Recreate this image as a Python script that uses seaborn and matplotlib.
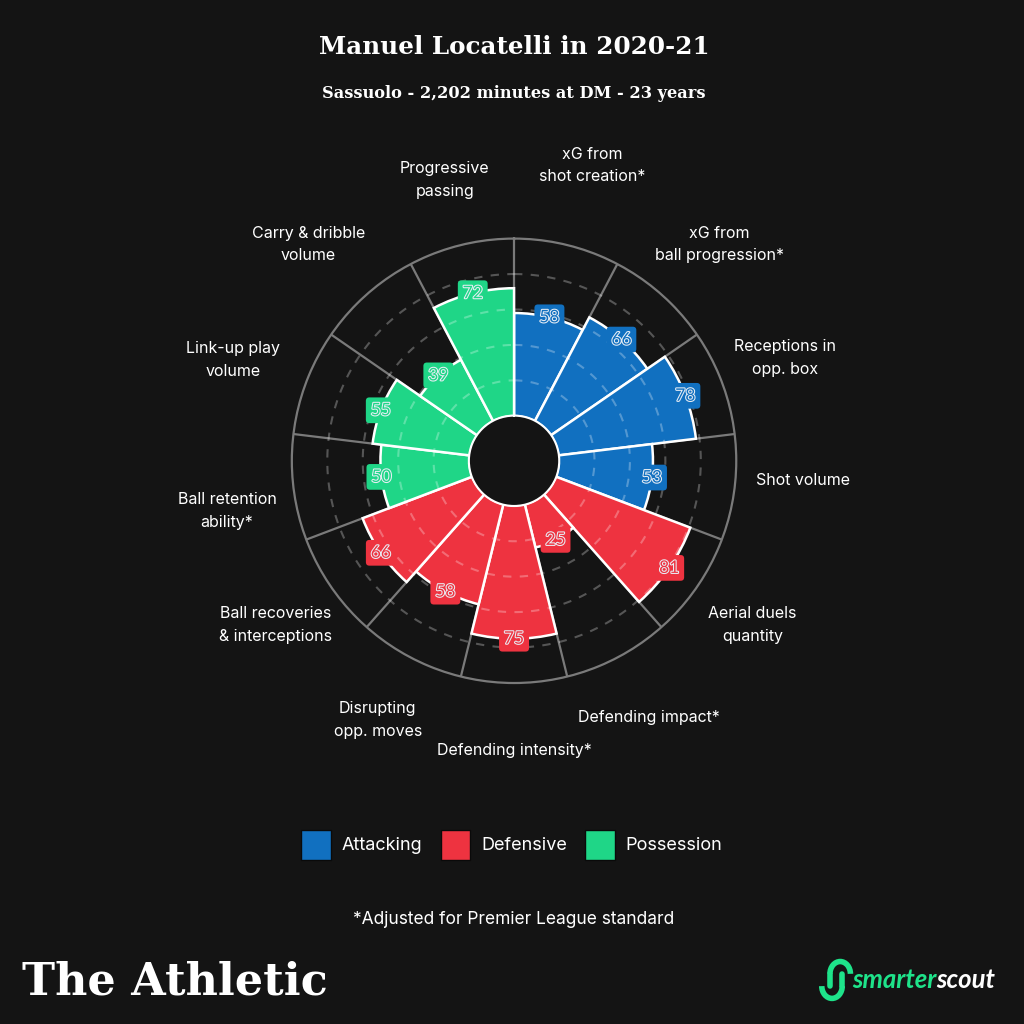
import numpy as np
import matplotlib
matplotlib.use("Agg")
import matplotlib.pyplot as plt
import matplotlib.patheffects as pe
from matplotlib.patches import Patch, Arc
import seaborn as sns

# chart data
labels = ["xG from\nshot creation*", "xG from\nball progression*", "Receptions in\nopp. box",
          "Shot volume", "Aerial duels\nquantity", "Defending impact*", "Defending intensity*",
          "Disrupting\nopp. moves", "Ball recoveries\n& interceptions", "Ball retention\nability*",
          "Link-up play\nvolume", "Carry & dribble\nvolume", "Progressive\npassing"]
values = [58, 66, 78, 53, 81, 25, 75, 58, 66, 50, 55, 39, 72]
groups = ["Attacking"] * 4 + ["Defensive"] * 5 + ["Possession"] * 4
group_names = ["Attacking", "Defensive", "Possession"]

# label placement tweaks (angle nudge in degrees, radius)
label_nudge = [(1, 147), (2, 143), (0, 138), (-3, 138), (0, 138), (0, 138), (0, 138),
               (0, 140), (0, 138), (-3, 139), (-1, 143), (-2, 143), (0, 138)]

bg = "#141414"
palette = dict(zip(group_names, sns.color_palette(["#1170C0", "#EE3340", "#1FD687"])))

sns.set_theme(style="dark", rc={"figure.facecolor": bg, "axes.facecolor": bg, "savefig.facecolor": bg})
plt.rcParams["font.family"] = ["Inter", "DejaVu Sans"]

fig = plt.figure(figsize=(10.24, 10.24), dpi=100)
ax = fig.add_axes([0.285, 0.333, 0.434, 0.434], projection="polar")
ax.set_facecolor(bg)
ax.set_theta_zero_location("N")
ax.set_theta_direction(-1)

n = len(values)
width = 2 * np.pi / n
theta = np.arange(n) * width + width / 2
colors = [palette[g] for g in groups]

# gray radial separators
for a in np.arange(n) * width:
    ax.plot([a, a], [0, 100], color="#7a7a7a", lw=1.6, zorder=1)

ax.bar(theta, values, width=width, bottom=0, color=colors, edgecolor="white", linewidth=1.8, zorder=2)

# dashed rings
ring = np.linspace(0, 2 * np.pi, 400)
for r in [20, 40, 60, 80]:
    ax.plot(ring, np.full_like(ring, r), color="white", alpha=0.28, lw=1.5, ls=(0, (4, 4)), zorder=3)

ax.set_ylim(0, 100)
ax.set_rorigin(-25.4)
ax.grid(False)
ax.set_xticks([])
ax.set_yticks([])
ax.spines["polar"].set_color("#7a7a7a")
ax.spines["polar"].set_linewidth(1.6)
ax.spines["inner"].set_visible(False)

# value badges
for t, v, c in zip(theta, values, colors):
    ax.text(t, v, str(v), ha="center", va="center", fontsize=12.5, color=c,
            family=["Lato", "DejaVu Sans"], zorder=5,
            bbox=dict(boxstyle="round,pad=0.28,rounding_size=0.2", fc=c, ec="none"),
            path_effects=[pe.withStroke(linewidth=1.5, foreground="#e8eef5")])

# category labels
for t, lab, (dt, rr) in zip(theta, labels, label_nudge):
    ax.text(t + np.deg2rad(dt), rr, lab, ha="center", va="center", fontsize=11.5, color="white",
            linespacing=1.65, zorder=5)

# titles
fig.text(0.502, 0.954, "Manuel Locatelli in 2020-21", ha="center", va="center", color="white",
         fontsize=17.7, fontweight="bold", family="DejaVu Serif")
fig.text(0.502, 0.909, "Sassuolo - 2,202 minutes at DM - 23 years", ha="center", va="center",
         color="white", fontsize=11.7, fontweight="bold", family="DejaVu Serif")

# legend
handles = [Patch(facecolor=palette[g], edgecolor="#0a0a0a", label=g) for g in group_names]
leg = fig.legend(handles=handles, loc="center", bbox_to_anchor=(0.500, 0.175), ncol=3, frameon=False,
                 fontsize=13, handlelength=1.65, handleheight=2.15, handletextpad=0.6,
                 columnspacing=1.0)
for txt in leg.get_texts():
    txt.set_color("white")

fig.text(0.502, 0.102, "*Adjusted for Premier League standard", ha="center", va="center",
         color="white", fontsize=12.5)

# footer
fig.text(0.021, 0.041, "The Athletic", ha="left", va="center", color="white", fontsize=32,
         fontweight="bold", family="DejaVu Serif")
green = "#1EE38A"
t1 = fig.text(0.832, 0.043, "smarter", ha="left", va="center", color=green, fontsize=18.5,
              fontweight="bold", fontstyle="italic", family=["Lato", "DejaVu Sans"])
fig.canvas.draw()
bb = t1.get_window_extent()
fig.text(bb.x1 / fig.bbox.width, 0.043, "scout", ha="left", va="center", color="white",
         fontsize=18.5, fontweight="bold", fontstyle="italic", family=["Lato", "DejaVu Sans"])
for c0, t_a, t_b in [((0.8205, 0.049), 0, 180), ((0.8125, 0.037), 180, 360)]:
    fig.add_artist(Arc(c0, 0.020, 0.024, theta1=t_a, theta2=t_b, color=green, lw=4,
                       transform=fig.transFigure))
fig.add_artist(plt.Line2D([0.8105, 0.8105], [0.037, 0.049], color=green, lw=4,
                          transform=fig.transFigure))
fig.add_artist(plt.Line2D([0.8225, 0.8225], [0.037, 0.049], color=green, lw=4,
                          transform=fig.transFigure))

fig.savefig("out.png", dpi=100, facecolor=bg)
